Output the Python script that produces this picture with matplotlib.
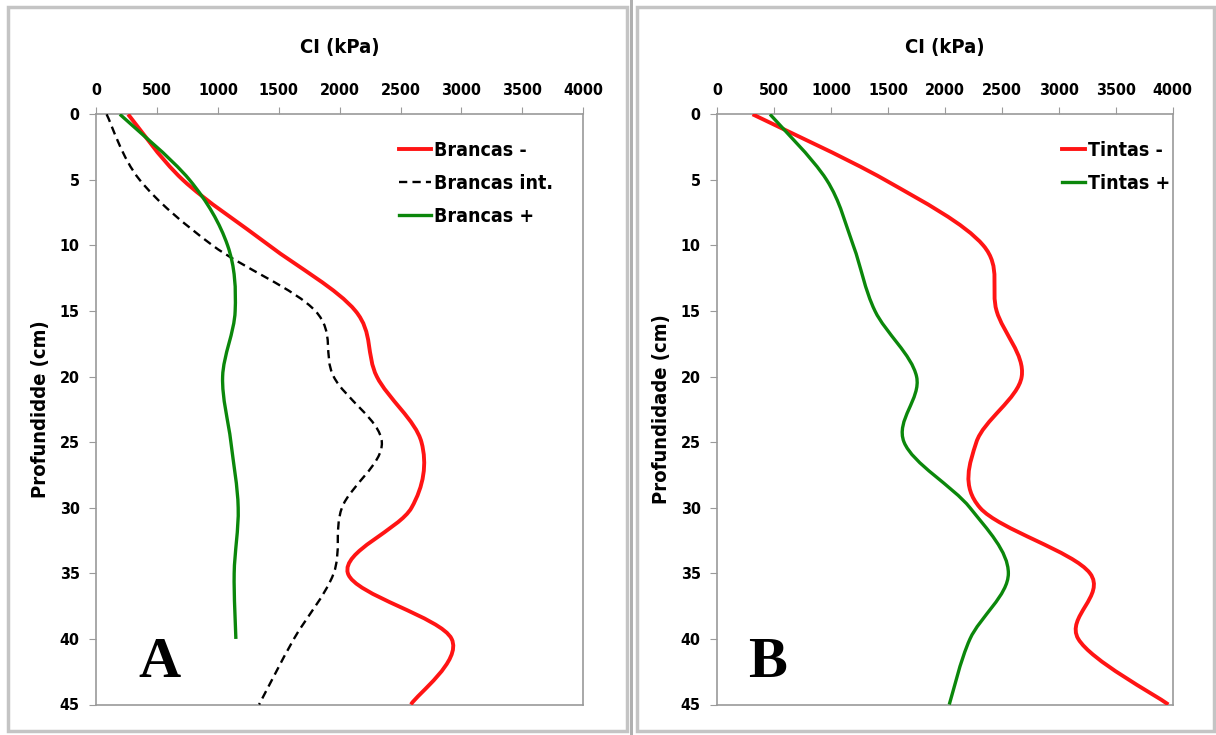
import matplotlib
matplotlib.use("Agg")
import matplotlib.pyplot as plt
import numpy as np
from matplotlib.path import Path
from matplotlib.patches import PathPatch, Rectangle
from matplotlib.lines import Line2D
from matplotlib import font_manager

# profundidade (cm)
depth = [0, 5, 10, 15, 20, 25, 30, 35, 40, 45]
depth_a_plus = [0, 5, 10, 15, 20, 25, 30, 35, 40]

# Painel A - brancas
brancas_menos = [260, 710, 1420, 2130, 2305, 2672, 2590, 2067, 2920, 2585]
brancas_int = [83, 355, 955, 1800, 1950, 2346, 2018, 1950, 1623, 1337]
brancas_mais = [192, 765, 1078, 1140, 1037, 1105, 1165, 1132, 1146]

# Painel B - tintas
tintas_menos = [310, 1472, 2336, 2453, 2673, 2275, 2307, 3273, 3170, 3961]
tintas_mais = [463, 960, 1194, 1385, 1750, 1640, 2219, 2556, 2219, 2037]

x_ticks = [0, 500, 1000, 1500, 2000, 2500, 3000, 3500, 4000]
y_ticks = [0, 5, 10, 15, 20, 25, 30, 35, 40, 45]

RED = "#ff1414"
GREEN = "#0b870b"

# fonte estreita (tipo Calibri negrito) se existir
names = {f.name for f in font_manager.fontManager.ttflist}
cond = [f for f in font_manager.fontManager.ttflist
        if f.name == "DejaVu Sans" and "ondensed" in f.fname and "Bold" in f.fname]
if "Liberation Sans Narrow" in names:
    FP = dict(family="Liberation Sans Narrow", weight="bold")
elif cond:
    FP = dict(fname=cond[0].fname)
else:
    FP = dict(family="DejaVu Sans", weight="bold", stretch="condensed")


def fprop(size):
    return font_manager.FontProperties(size=size, **FP)


def smooth_path(xs, ys):
    # curva suavizada tipo Excel (Catmull-Rom -> Bezier cubica)
    P = np.column_stack([xs, ys]).astype(float)
    n = len(P)
    verts = [P[0]]
    codes = [Path.MOVETO]
    for i in range(n - 1):
        p0 = P[max(i - 1, 0)]
        p3 = P[min(i + 2, n - 1)]
        c1 = P[i] + (P[i + 1] - p0) / 6.0
        c2 = P[i + 1] - (p3 - P[i]) / 6.0
        verts += [c1, c2, P[i + 1]]
        codes += [Path.CURVE4] * 3
    return Path(verts, codes)


def add_curve(ax, xs, ys, color, lw, ls="-"):
    patch = PathPatch(smooth_path(xs, ys), fill=False, edgecolor=color,
                      linewidth=lw, linestyle=ls, capstyle="butt", zorder=3)
    ax.add_patch(patch)


def style_axes(ax, ylabel):
    ax.set_xlim(0, 4000)
    ax.set_ylim(45, 0)
    ax.xaxis.tick_top()
    ax.set_xticks(x_ticks)
    ax.set_yticks(y_ticks)
    for s in ax.spines.values():
        s.set_color("#9a9a9a")
        s.set_linewidth(1.2)
    ax.tick_params(direction="out", length=5, color="#9a9a9a", pad=7)
    for lab in ax.get_xticklabels() + ax.get_yticklabels():
        lab.set_fontproperties(fprop(11.5))
    ax.set_title("CI (kPa)", fontproperties=fprop(14.5), pad=44)
    ax.set_ylabel(ylabel, fontproperties=fprop(14.5), labelpad=7)


fig = plt.figure(figsize=(12.16, 7.35), dpi=100)

# molduras dos paineis
for (x0, x1) in [(8, 627), (637, 1214)]:
    fig.patches.append(Rectangle((x0 / 1216, 4 / 735), (x1 - x0) / 1216, 724 / 735,
                                 transform=fig.transFigure, fill=False,
                                 edgecolor="#c4c4c4", linewidth=2.5))
fig.patches.append(Rectangle((630 / 1216, 0), 3 / 1216, 1, transform=fig.transFigure,
                             facecolor="#b0b0b0", edgecolor="none"))

axA = fig.add_axes([96.5 / 1216, 30.5 / 735, 486.5 / 1216, 590.2 / 735])
axB = fig.add_axes([717.3 / 1216, 30.5 / 735, 455.5 / 1216, 590.2 / 735])

DASH = (0, (3.5, 2.2))

# Painel A
add_curve(axA, brancas_menos, depth, RED, 2.8)
add_curve(axA, brancas_int, depth, "black", 1.7, DASH)
add_curve(axA, brancas_mais, depth_a_plus, GREEN, 2.4)
style_axes(axA, "Profundidde (cm)")
handles_a = [Line2D([], [], color=RED, lw=2.8),
             Line2D([], [], color="black", lw=1.7, ls=DASH),
             Line2D([], [], color=GREEN, lw=2.4)]
axA.legend(handles_a, ["Brancas -", "Brancas int.", "Brancas +"], loc="upper left",
           bbox_to_anchor=(0.585, 0.984), frameon=False, handlelength=1.65,
           handletextpad=0.15, labelspacing=0.72, prop=fprop(14))
axA.text(0.13, 0.07, "A", transform=axA.transAxes, family="Liberation Serif",
         fontweight="bold", fontsize=42, ha="center", va="center")

# Painel B
add_curve(axB, tintas_menos, depth, RED, 2.8)
add_curve(axB, tintas_mais, depth, GREEN, 2.4)
style_axes(axB, "Profundidade (cm)")
handles_b = [Line2D([], [], color=RED, lw=2.8),
             Line2D([], [], color=GREEN, lw=2.4)]
axB.legend(handles_b, ["Tintas -", "Tintas +"], loc="upper left",
           bbox_to_anchor=(0.718, 0.984), frameon=False, handlelength=1.2,
           handletextpad=0.12, labelspacing=0.72, prop=fprop(14))
axB.text(0.11, 0.07, "B", transform=axB.transAxes, family="Liberation Serif",
         fontweight="bold", fontsize=42, ha="center", va="center")

fig.savefig("out.png", dpi=100)
